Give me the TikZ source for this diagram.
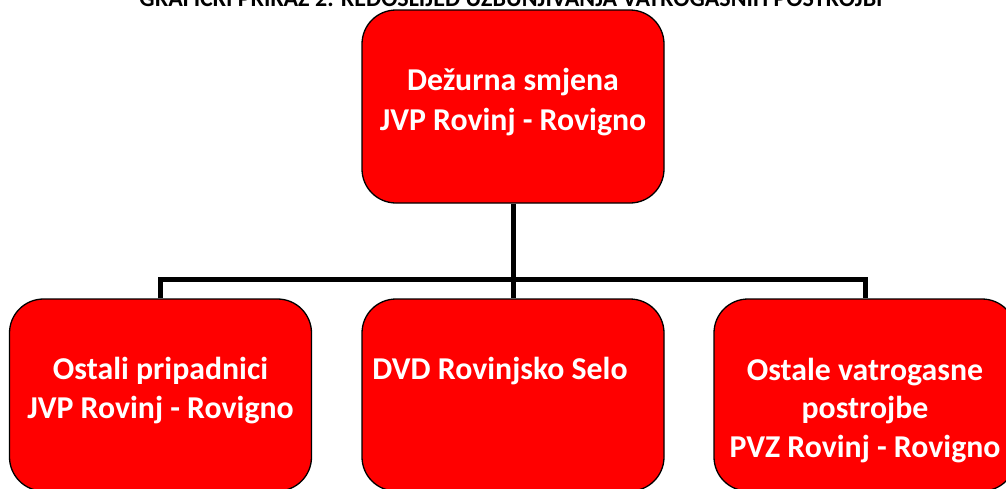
\documentclass[tikz,border=0pt]{standalone}
\usepackage{fontspec}
\setmainfont{Carlito}
\begin{document}
\begin{tikzpicture}[x=1pt,y=-1pt,
  orgbox/.style={draw=black,line width=1.3pt,fill=red,rounded corners=34pt,minimum width=302pt,minimum height=193pt,inner sep=0pt},
  boxtext/.style={text=white,font=\fontsize{31.8}{40}\selectfont\bfseries,align=center,anchor=base,inner sep=0pt},
  conn/.style={line width=5pt,draw=black}]
\clip (0,0) rectangle (1006,488);
\fill[white] (0,0) rectangle (1006,488);
% title (clipped at top)
\node[anchor=base,inner sep=0pt] (title) at (511,6) {\resizebox{743pt}{!}{\bfseries\fontsize{16}{18}\selectfont GRAFIČKI PRIKAZ 2. REDOSLIJED UZBUNJIVANJA VATROGASNIH POSTROJBI}};
% boxes
\node[orgbox] (top) at (513,106.5) {};
\node[orgbox,minimum height=192pt] (left) at (160.5,395) {};
\node[orgbox,minimum height=192pt] (mid) at (513,395) {};
\node[orgbox,minimum height=192pt] (right) at (865,395) {};
% connectors
\coordinate (bus) at (513,279);
\draw[conn] (top.south) -- (mid.north);
\draw[conn] (left.north) -- (left.north |- bus) -- (right.north |- bus) -- (right.north);
% texts
\node[boxtext] (toptxt1) at (513,90) {Dežurna smjena};
\node[boxtext] (toptxt2) at (513,130) {JVP Rovinj - Rovigno};
\node[boxtext] (lefttxt1) at (160.5,379) {Ostali pripadnici};
\node[boxtext] (lefttxt2) at (160.5,418) {JVP Rovinj - Rovigno};
\node[boxtext] (midtxt) at (500,379) {DVD Rovinjsko Selo};
\node[boxtext] (righttxt1) at (865,380) {Ostale vatrogasne};
\node[boxtext] (righttxt2) at (865,418) {postrojbe};
\node[boxtext] (righttxt3) at (865,457) {PVZ Rovinj - Rovigno};
\end{tikzpicture}
\end{document}
